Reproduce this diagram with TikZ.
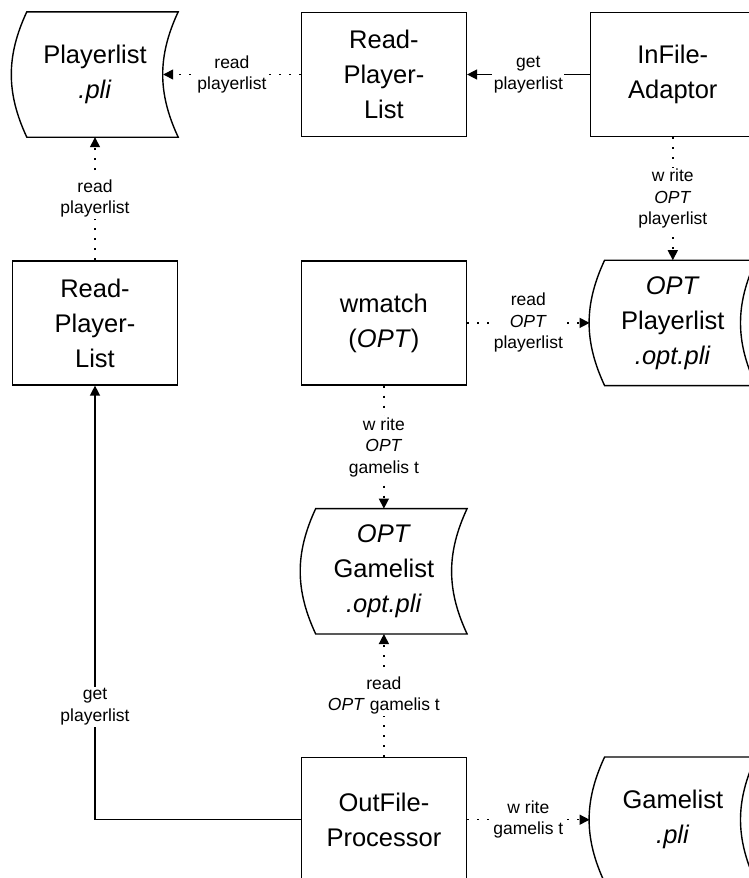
\documentclass[tikz,border=0pt]{standalone}
\usepackage{fontspec}
\setmainfont{Liberation Sans}
\usepackage{tikz}
\usetikzlibrary{arrows.meta,positioning}

% outline of a stored-data node (convex left, concave right)
\newcommand\storeline[1]{%
  \draw[line width=1.4pt] ([xshift=15pt]#1.north west) -- (#1.north east)
    to[bend right=25] (#1.south east) -- ([xshift=15pt]#1.south west)
    to[bend left=25] ([xshift=15pt]#1.north west) -- cycle;}

\begin{document}
\begin{tikzpicture}[
 node distance=123pt and 122.5pt,
 b/.style={draw,line width=1.4pt,align=center,minimum width=165pt,minimum height=124pt,
   inner sep=0pt,font=\fontsize{25.5}{35}\selectfont},
 st/.style={b,draw=none},
 lb/.style={fill=white,align=center,inner sep=1.5pt,font=\fontsize{17.5}{21.5}\selectfont},
 a/.style={-{Triangle[length=10pt,width=10pt]},line width=1.4pt},
 d/.style={a,dash pattern=on 2pt off 8pt}
]
\useasboundingbox (0,0) rectangle (749pt,-878pt);
\clip (0,0) rectangle (749pt,-878pt);

\node[st] (pl) at (95pt,-74.5pt) {Playerlist\\\textit{.pli}};
\node[b,right=of pl] (rpa) {Read-\\Player-\\List};
\node[b,right=of rpa] (ia) {InFile-\\Adaptor};
\node[b,below=of pl] (rpb) {Read-\\Player-\\List};
\node[b,below=of rpa] (wm) {wmatch\\(\textit{OPT})};
\node[st,below=of ia] (opl) {\textit{OPT}\\Playerlist\\\textit{.opt.pli}};
\node[st,below=of wm] (ogl) {\textit{OPT}\\Gamelist\\\textit{.opt.pli}};
\node[b,below=of ogl] (op) {OutFile-\\Processor};
\node[st,right=of op] (gl) {Gamelist\\\textit{.pli}};
\storeline{pl}
\storeline{opl}
\storeline{ogl}
\storeline{gl}

\draw[a] (ia) -- node[lb]{get\\playerlist} (rpa);
\draw[d] (rpa) -- node[lb]{read\\playerlist} ([xshift=-15pt]pl.east);
\draw[d] (rpb) -- node[lb]{read\\playerlist} (pl);
\draw[d] (ia) -- node[lb]{w rite\\\textit{OPT}\\playerlist} (opl);
\draw[d] (wm) -- node[lb]{read\\\textit{OPT}\\playerlist} (opl);
\draw[d] (wm) -- node[lb]{w rite\\\textit{OPT}\\gamelis t} (ogl);
\draw[d] (op) -- node[lb]{read\\\textit{OPT} gamelis t} (ogl);
\draw[d] (op) -- node[lb]{w rite\\gamelis t} (gl);
\draw[a] (op.west) -| node[lb,pos=0.63]{get\\playerlist} (rpb.south);
\end{tikzpicture}
\end{document}
